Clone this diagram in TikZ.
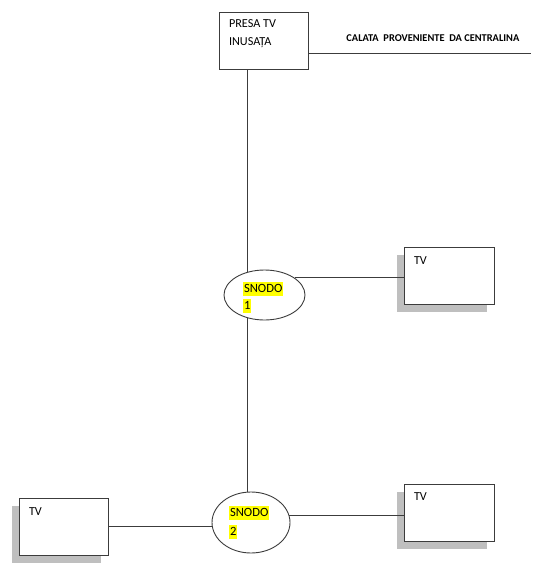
\documentclass[tikz,border=0pt]{standalone}
\usepackage{fontspec}
\setmainfont{Carlito}
\usetikzlibrary{shapes.geometric, shadows}
\definecolor{ombra}{RGB}{191,191,191}
\definecolor{evidenzia}{RGB}{255,255,0}
\definecolor{tratto}{RGB}{60,60,60}

\begin{document}
\begin{tikzpicture}[x=1pt, y=-1pt, line width=0.9pt,
    presabox/.style={draw=tratto, fill=white, minimum width=89pt, minimum height=57pt, inner sep=0pt},
    tvbox/.style={presabox, minimum width=90pt,
        drop shadow={shadow xshift=-7pt, shadow yshift=-7.5pt, fill=ombra, opacity=1}},
    snodo/.style={ellipse, draw=tratto, fill=white, inner sep=0pt},
    testo/.style={anchor=west, inner sep=0pt, font=\fontsize{12.2}{14}\selectfont, text=black},
    evid/.style={testo, font=\fontsize{12.6}{14}\selectfont, fill=evidenzia, inner xsep=0.6pt, inner ysep=0pt, text height=10.5pt, text depth=3.5pt}]

    \useasboundingbox (0,0) rectangle (554,587);

    % Presa e calata
    \node[presabox] (presa) at (263.5,40.5) {};
    \node[testo] at ([shift={(10,12)}]presa.north west) {PRESA TV};
    \node[testo] at ([shift={(10,31)}]presa.north west) {INUSAȚA};
    \coordinate (centralina) at (531,53);
    \draw[tratto] (presa.east |- centralina) -- (centralina);
    \node[testo, font=\bfseries\fontsize{10.4}{12}\selectfont] at (346,38) {CALATA\ \ PROVENIENTE\ \ DA CENTRALINA};

    % Prese TV
    \node[tvbox] (tv1) at (449,275.5) {};
    \node[tvbox] (tv2) at (449,512.5) {};
    \node[tvbox, minimum width=89pt] (tv3) at (63.5,526.5) {};
    \node[testo] at ([shift={(10,14)}]tv1.north west) {TV};
    \node[testo] at ([shift={(10,13)}]tv2.north west) {TV};
    \node[testo] at ([shift={(10,14)}]tv3.north west) {TV};

    % Snodi
    \node[snodo, minimum width=81pt, minimum height=50pt] (snodo1) at (264.5,295) {};
    \node[snodo, minimum width=78pt, minimum height=61pt] (snodo2) at (251,522.5) {};
    \node[evid] at (243,288.5) {SNODO};
    \node[evid] at (243,305.5) {1};
    \node[evid] at (229,513) {SNODO};
    \node[evid] at (229,532) {2};

    % Collegamenti
    \draw[tratto] (snodo1.127 |- presa.south) -- (snodo1.127);
    \draw[tratto] (snodo1.233) -- (snodo1.233 |- snodo2.north);
    \draw[tratto] (snodo1.30) -- (snodo1.30 -| tv1.west);
    \draw[tratto] (snodo2.11) -- (snodo2.11 -| tv2.west);
    \draw[tratto] (tv3.east) -- (tv3.east -| snodo2.west);
\end{tikzpicture}
\end{document}
